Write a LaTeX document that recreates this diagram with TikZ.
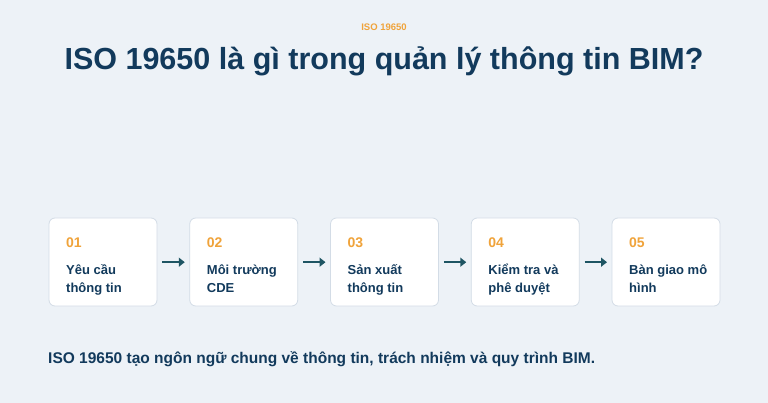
\documentclass[tikz,border=0pt]{standalone}
\usepackage{fontspec}
\setmainfont{Liberation Sans}
\usetikzlibrary{arrows.meta}
\definecolor{bgc}{HTML}{EDF2F7}
\definecolor{navy}{HTML}{123A5C}
\definecolor{orng}{HTML}{F0A33A}
\definecolor{brd}{HTML}{D3DCE6}
\definecolor{arr}{HTML}{1E5563}
\tikzset{
  stepbox/.style={draw=brd, line width=0.8pt, fill=white, rounded corners=6pt},
  numtxt/.style={anchor=base west, inner sep=0pt, text=orng, font=\fontsize{14}{16}\selectfont\bfseries},
  lbltxt/.style={anchor=base west, inner sep=0pt, text=navy, font=\fontsize{13}{17}\selectfont\bfseries},
  flow/.style={draw=arr, line width=2.4pt, -{Triangle[length=6pt,width=9pt]}},
}
\begin{document}
\begin{tikzpicture}[x=1pt,y=-1pt]
\fill[bgc] (0,0) rectangle (768,403);
\useasboundingbox (0,0) rectangle (768,403);
\node[anchor=base, inner sep=0pt, text=orng, font=\fontsize{9.5}{11}\selectfont\bfseries] (tag) at (384,31) {ISO 19650};
\node[anchor=base, inner sep=0pt, text=navy, font=\fontsize{30.5}{34}\selectfont\bfseries] (title) at (384,70) {ISO 19650 là gì trong quản lý thông tin BIM?};
\foreach \i/\n/\a/\b in {0/01/Yêu cầu/thông tin,1/02/Môi trường/CDE,2/03/Sản xuất/thông tin,3/04/Kiểm tra và/phê duyệt,4/05/Bàn giao mô/hình}{
  \pgfmathsetmacro{\xx}{49+140.75*\i}
  \draw[stepbox] (\xx,218) rectangle ++(108,88);
  \node[inner sep=0pt, minimum width=108pt, minimum height=88pt, anchor=north west] (b\i) at (\xx,218) {};
  \node[numtxt] (n\i) at (\xx+17,248) {\n};
  \node[lbltxt] (la\i) at (\xx+17,275) {\a};
  \node[lbltxt] (lb\i) at (\xx+17,292) {\b};
}
\foreach \i/\j in {0/1,1/2,2/3,3/4}{
  \draw[flow] ([xshift=5pt]b\i.east) -- ([xshift=-5pt]b\j.west);
}
\node[anchor=base west, inner sep=0pt, text=navy, font=\fontsize{15.5}{18}\selectfont\bfseries] (foot) at (48,363) {ISO 19650 tạo ngôn ngữ chung về thông tin, trách nhiệm và quy trình BIM.};
\end{tikzpicture}
\end{document}
